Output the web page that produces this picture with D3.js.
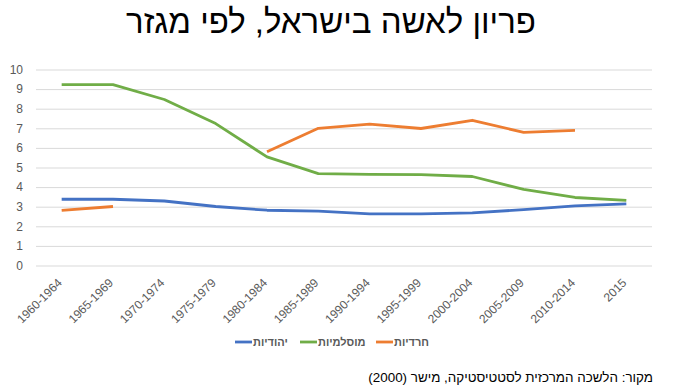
<!DOCTYPE html>
<html><head><meta charset="utf-8">
<script src="https://cdn.jsdelivr.net/npm/d3@7"></script>
<style>body{margin:0;background:#fff}svg{display:block}text{font-family:"Liberation Sans",Arial,sans-serif}</style>
</head><body><svg id="c" width="674" height="392"></svg>
<script>
const categories = ["1960-1964","1965-1969","1970-1974","1975-1979","1980-1984","1985-1989","1990-1994","1995-1999","2000-2004","2005-2009","2010-2014","2015"];
const jewish  = [3.38,3.38,3.29,3.01,2.82,2.77,2.63,2.63,2.68,2.85,3.04,3.14];
const muslim  = [9.23,9.23,8.47,7.24,5.54,4.69,4.65,4.64,4.54,3.88,3.47,3.32];
const haredi  = [2.81,3.01,null,null,5.80,7.00,7.21,6.99,7.41,6.79,6.89,null];
const yTicks = [0,1,2,3,4,5,6,7,8,9,10];
const seriesNames = ["יהודיות","מוסלמיות","חרדיות"];
const title = "פריון לאשה בישראל, לפי מגזר";
const source = "מקור: הלשכה המרכזית לסטטיסטיקה, מישר (2000)";

const colors = ["#4472C4","#70AD47","#ED7D31"];
const series = [jewish, muslim, haredi];
const svg = d3.select("#c");
const x = d3.scaleBand().domain(categories).range([36, 652]);
const y = d3.scaleLinear().domain([0,10]).range([265.5, 69.5]);

svg.append("text").attr("x",331).attr("y",33).attr("text-anchor","middle")
  .attr("font-size",33).attr("fill","#000").text(title);

const gy = svg.append("g").attr("transform","translate(36,0)")
  .call(d3.axisLeft(y).tickValues(yTicks).tickSize(-616).tickFormat(d3.format("d")));
gy.select(".domain").remove();
gy.selectAll(".tick line").attr("stroke","#D9D9D9");
gy.selectAll(".tick text").attr("x",-13).attr("fill","#595959").attr("font-size",12);

const gx = svg.append("g").attr("transform","translate(0,265.5)")
  .call(d3.axisBottom(x).tickSize(0));
gx.select(".domain").remove();
gx.selectAll(".tick text").attr("text-anchor","end").attr("fill","#595959").attr("font-size",12)
  .attr("transform","translate(1,18) rotate(-45)").attr("dy",0).attr("y",0).attr("x",0);

const line = d3.line().defined(d=>d!=null)
  .x((d,i)=>x(categories[i])+x.bandwidth()/2).y(d=>y(d));
series.forEach((s,k)=>{
  svg.append("path").datum(s).attr("d",line).attr("fill","none")
    .attr("stroke",colors[k]).attr("stroke-width",2.8).attr("stroke-linejoin","round");
});

const legX = [235,300,376];
series.forEach((s,k)=>{
  svg.append("line").attr("x1",legX[k]).attr("x2",legX[k]+17).attr("y1",342).attr("y2",342)
    .attr("stroke",colors[k]).attr("stroke-width",2.8);
  svg.append("text").attr("x",legX[k]+18).attr("y",346).attr("font-size",11).attr("fill","#595959")
    .attr("direction","ltr").attr("font-weight","bold")
    .text(seriesNames[k]);
});

svg.append("text").attr("x",653).attr("y",382).attr("text-anchor","start").attr("direction","rtl")
  .attr("font-size",13.4).attr("fill","#000").text(source);
</script></body></html>
